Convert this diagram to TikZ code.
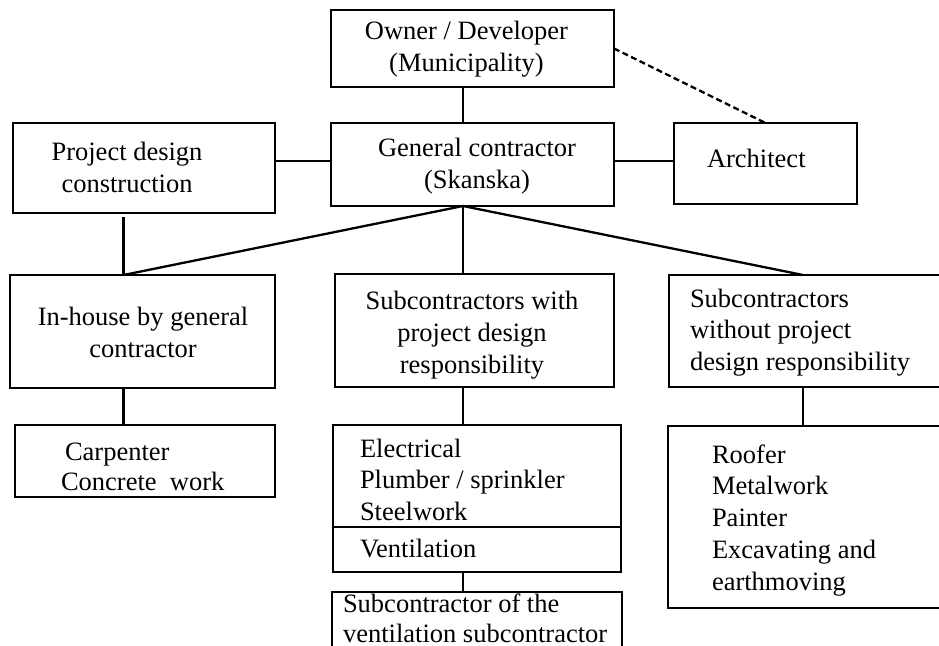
\documentclass[tikz,border=0pt]{standalone}
\usepackage{fontspec}
\setmainfont{Liberation Serif}
\begin{document}
\begin{tikzpicture}[x=1pt,y=-1pt,
  box/.style={draw, line width=1.1pt, rectangle, inner sep=0pt, outer sep=0pt},
  txt/.style={inner sep=0pt, outer sep=0pt, font=\fontsize{26.5}{31.5}\selectfont},
  conn/.style={line width=2.3pt},
  dashconn/.style={line width=2.3pt, dash pattern=on 6pt off 3.5pt}]
\useasboundingbox (0,0) rectangle (939,645);

% boxes (centre, size)
\node[box, minimum width=283pt, minimum height=77pt]  (owner)  at (472.5,48.5) {};
\node[box, minimum width=283pt, minimum height=83pt]  (gc)     at (472.5,164.5) {};
\node[box, minimum width=262pt, minimum height=90pt]  (proj)   at (144,168) {};
\node[box, minimum width=183pt, minimum height=81pt]  (arch)   at (765.5,163.5) {};
\node[box, minimum width=265pt, minimum height=113pt] (inh)    at (142.5,331.5) {};
\node[box, minimum width=279pt, minimum height=113pt] (mid)    at (474.5,330.5) {};
\node[box, minimum width=281pt, minimum height=112pt] (rgt)    at (809.5,331) {};
\node[box, minimum width=260pt, minimum height=72pt]  (carp)   at (145,461) {};
\node[box, minimum width=288pt, minimum height=147pt] (elec)   at (477,498.5) {};
\node[box, minimum width=290pt, minimum height=70pt]  (subsub) at (477,627) {};
\node[box, minimum width=282pt, minimum height=182pt] (rbot)   at (809,517) {};

% helper coordinates
\coordinate (hub)  at (463,206);
\coordinate (colA) at (123.5,275);
\coordinate (colC) at (803,275);
\coordinate (row1) at (0,161);
\coordinate (div)  at (0,527);

% divider in electrical box
\draw[line width=1.1pt] (elec.west |- div) -- (elec.east |- div);

% connectors
\draw[conn] (hub |- owner.south) -- (hub |- gc.north);
\draw[conn] (proj.east |- row1) -- (gc.west |- row1);
\draw[conn] (gc.east |- row1) -- (arch.west |- row1);
\draw[dashconn] (owner.east) -- (arch.north);
\draw[conn] ([yshift=-4pt]colA |- proj.south) -- (colA |- inh.north);
\draw[conn] (hub) -- (colA |- inh.north);
\draw[conn] (hub) -- (hub |- mid.north);
\draw[conn] (hub) -- (colC |- rgt.north);
\draw[conn] (colA |- inh.south) -- (colA |- carp.north);
\draw[conn] (hub |- mid.south) -- (hub |- elec.north);
\draw[conn] (hub |- elec.south) -- (hub |- subsub.north);
\draw[conn] (colC |- rgt.south) -- (colC |- rbot.north);

% texts (base anchor = baseline of the last line)
\node[txt, align=center, anchor=base] (ownerT) at (466.5,71) {Owner / Developer\\(Municipality)};
\node[txt, align=center, anchor=base] (gcT) at (477,188) {General contractor\\(Skanska)};
\node[txt, align=center, anchor=base] (projT) at (127,192) {Project design\\construction};
\node[txt, anchor=base west] (archT) at (707,167) {Architect};
\node[txt, align=center, anchor=base] (inhT) at (143,357) {In-house by general\\contractor};
\node[txt, align=center, anchor=base, font=\fontsize{26.5}{32}\selectfont] (midT) at (472,373) {Subcontractors with\\project design\\responsibility};
\node[txt, align=left, anchor=base west] (rgtT) at (690,370) {Subcontractors\\without project\\design responsibility};
\node[txt, anchor=base west] (carpT1) at (65,460) {Carpenter};
\node[txt, anchor=base west] (carpT2) at (61,490) {Concrete\ \ work};
\node[txt, align=left, anchor=base west] (elecT) at (360,520) {Electrical\\Plumber / sprinkler\\Steelwork};
\node[txt, anchor=base west] (ventT) at (360,557) {Ventilation};
\node[txt, align=left, anchor=base west, font=\fontsize{26.5}{30}\selectfont] (subsubT) at (343,642) {Subcontractor of the\\ventilation subcontractor};
\node[txt, align=left, anchor=base west, font=\fontsize{26.5}{31.75}\selectfont] (rbotT) at (712,590) {Roofer\\Metalwork\\Painter\\Excavating and\\earthmoving};
\end{tikzpicture}
\end{document}
